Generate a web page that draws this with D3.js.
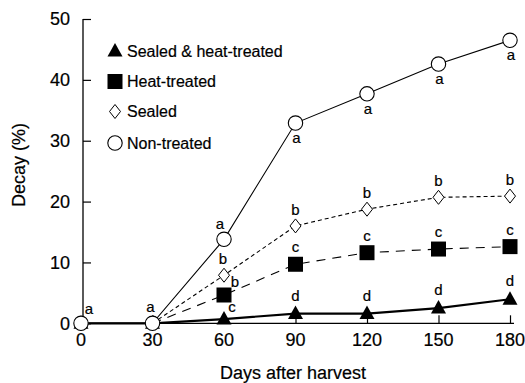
<!DOCTYPE html>
<html>
<head>
<meta charset="utf-8">
<script src="https://cdn.jsdelivr.net/npm/d3@7"></script>
<style>
  html, body { margin: 0; padding: 0; background: #fff; }
  svg { display: block; font-family: "Liberation Sans", Arial, Helvetica, sans-serif; }
  svg text { stroke: #000; stroke-width: 0.2px; }
</style>
</head>
<body>
<svg id="chart" width="525" height="383"></svg>
<script>
// Days after harvest
const days = [0, 30, 60, 90, 120, 150, 180];
const yTicks = [0, 10, 20, 30, 40, 50];

// Decay (%) per treatment
const sealedHeat = [0, 0, 0.7, 1.6, 1.6, 2.5, 3.95];
const heatTreated = [0, 0, 4.65, 9.7, 11.6, 12.2, 12.6];
const sealed = [0, 0, 7.9, 16.0, 18.75, 20.7, 20.9];
const nonTreated = [0, 0, 13.8, 32.9, 37.7, 42.6, 46.5];

// Mean separation letters (null = not shown)
const sealedHeatLetters = [null, null, "c", "d", "d", "d", "d"];
const heatTreatedLetters = [null, null, "b", "c", "c", "c", "c"];
const sealedLetters = [null, null, "b", "b", "b", "b", "b"];
const nonTreatedLetters = ["a", "a", "a", "a", "a", "a", "a"];

const seriesNames = ["Sealed & heat-treated", "Heat-treated", "Sealed", "Non-treated"];

const svg = d3.select("#chart");
const x = d3.scaleLinear().domain([0, 180]).range([81, 510]);
const y = d3.scaleLinear().domain([0, 50]).range([323.3, 19]);

const series = [
  { name: seriesNames[0], values: sealedHeat, letters: sealedHeatLetters, shape: "triangle", from: 0, width: 2.2, dash: null },
  { name: seriesNames[1], values: heatTreated, letters: heatTreatedLetters, shape: "square", from: 1, width: 1.1, dash: "9,7" },
  { name: seriesNames[2], values: sealed, letters: sealedLetters, shape: "diamond", from: 1, width: 1.1, dash: "4,3" },
  { name: seriesNames[3], values: nonTreated, letters: nonTreatedLetters, shape: "circle", from: 0, width: 1.1, dash: null }
];

// Axes: ticks point into the plot
const yAxis = d3.axisRight(y).tickValues(yTicks).tickSize(8).tickFormat("");
const gy = svg.append("g").attr("transform", "translate(83,0)").call(yAxis);
gy.select(".domain").remove();
svg.append("line").attr("x1", 83).attr("x2", 83).attr("y1", y(50)).attr("y2", y(0))
  .attr("stroke", "#000").attr("stroke-width", 1.3);

const xAxis = d3.axisTop(x).tickValues(days.slice(1)).tickSize(8).tickFormat("");
const gx = svg.append("g").attr("transform", `translate(0,${y(0)})`).call(xAxis);
gx.select(".domain").remove();
svg.append("line").attr("x1", 83).attr("x2", 514).attr("y1", y(0)).attr("y2", y(0))
  .attr("stroke", "#000").attr("stroke-width", 1.3);
svg.selectAll(".tick line").attr("stroke", "#000").attr("stroke-width", 1.2);

// Tick labels
svg.append("g").selectAll("text").data(yTicks).join("text")
  .attr("x", 70).attr("y", d => y(d)).attr("dy", "0.36em")
  .attr("text-anchor", "end").attr("font-size", 18).text(d => d);
svg.append("g").selectAll("text").data(days).join("text")
  .attr("x", d => x(d)).attr("y", 346)
  .attr("text-anchor", "middle").attr("font-size", 18).text(d => d);

// Axis titles
svg.append("text").attr("x", 293).attr("y", 379).attr("text-anchor", "middle")
  .attr("font-size", 18).text("Days after harvest");
svg.append("text").attr("transform", "translate(25,165) rotate(-90)")
  .attr("text-anchor", "middle").attr("font-size", 18).text("Decay (%)");

// Marker symbols
function drawMarker(g, shape, cx, cy) {
  if (shape === "circle") {
    g.append("circle").attr("cx", cx).attr("cy", cy).attr("r", 7.2)
      .attr("fill", "#fff").attr("stroke", "#000").attr("stroke-width", 1.1);
  } else if (shape === "square") {
    g.append("rect").attr("x", cx - 7.5).attr("y", cy - 7.5).attr("width", 15).attr("height", 15)
      .attr("fill", "#000");
  } else if (shape === "diamond") {
    g.append("path").attr("d", `M${cx},${cy - 7}L${cx + 5.5},${cy}L${cx},${cy + 7}L${cx - 5.5},${cy}Z`)
      .attr("fill", "#fff").attr("stroke", "#000").attr("stroke-width", 1);
  } else {
    g.append("path").attr("d", `M${cx},${cy - 8}L${cx + 7.5},${cy + 5.5}L${cx - 7.5},${cy + 5.5}Z`)
      .attr("fill", "#000");
  }
}

// Lines
const line = d3.line().x(d => x(d[0])).y(d => y(d[1]));
series.forEach(s => {
  const pts = days.map((d, i) => [d, s.values[i]]).slice(s.from);
  svg.append("path").datum(pts).attr("d", line)
    .attr("fill", "none").attr("stroke", "#000")
    .attr("stroke-width", s.width)
    .attr("stroke-dasharray", s.dash);
});

// Markers (non-treated drawn last so it sits on top)
const markers = svg.append("g");
series.forEach(s => {
  days.forEach((d, i) => {
    if ((s.shape === "square" || s.shape === "diamond") && i < 2) return;
    drawMarker(markers, s.shape, x(d), y(s.values[i]));
  });
});

// Letter placement relative to each marker
function letterOffset(shape, i) {
  if (shape === "circle") {
    if (i === 0) return [8, -9];
    if (i === 1) return [-2, -11];
    if (i === 2) return [-4, -10];
    return [1, 20];
  }
  if (shape === "diamond") return [i === 2 ? -1 : 0, -11];
  if (shape === "square") return i === 2 ? [11, -8] : [0, -12];
  return i === 2 ? [8, -7] : [0, -13];
}
const letterG = svg.append("g");
series.forEach(s => {
  s.letters.forEach((l, i) => {
    if (!l) return;
    const [dx, dy] = letterOffset(s.shape, i);
    letterG.append("text")
      .attr("x", x(days[i]) + dx).attr("y", y(s.values[i]) + dy)
      .attr("text-anchor", "middle").attr("font-size", 15).text(l);
  });
});

// Legend
const legendRows = [51, 81.5, 111.5, 143];
const legend = svg.append("g");
series.forEach((s, k) => {
  drawMarker(legend, s.shape, 115, legendRows[k]);
  legend.append("text").attr("x", 127).attr("y", legendRows[k]).attr("dy", "0.36em")
    .attr("font-size", 16).text(s.name);
});
</script>
</body>
</html>
